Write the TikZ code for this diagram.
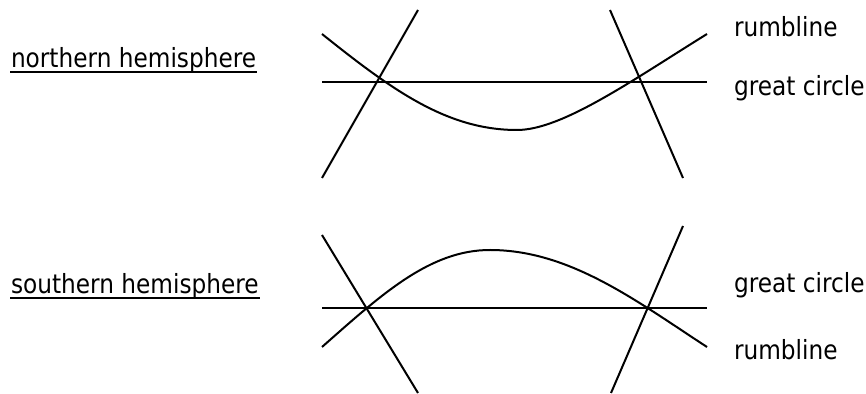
\documentclass[tikz,border=0pt]{standalone}
\usepackage{fontspec}
\setmainfont{DejaVu Sans}[FakeStretch=0.88]
\begin{document}
\begin{tikzpicture}[x=0.5pt, y=-0.5pt, line width=1pt,
    lbl/.style={anchor=base west, inner sep=0pt, font=\fontsize{13.2}{15}\selectfont}]
    \useasboundingbox (0,0) rectangle (866,394);
    % northern hemisphere
    \node[lbl] (nh) at (10,68) {northern hemisphere};
    \draw ([yshift=-2pt]nh.base west) -- ([yshift=-2pt]nh.base east);
    \draw (322,82) -- (707,82);
    \draw (322,34) .. controls (392,90) and (447,130) .. (517,130) .. controls (562,130) and (632,80.5) .. (707,34);
    \draw (322,178) -- (418,10);
    \draw (610,10) -- (683,178);
    \node[lbl] (nr) at (733,37) {rumbline};
    \node[lbl] (ng) at (733,96) {great circle};
    % southern hemisphere
    \node[lbl] (sh) at (10,294) {southern hemisphere};
    \draw ([yshift=-2pt]sh.base west) -- ([yshift=-2pt]sh.base east);
    \draw[line width=1.3pt] (322,308) -- (707,308);
    \draw (322,347) .. controls (382,294) and (430,250) .. (490,250) .. controls (570,250) and (637,301.5) .. (707,347);
    \draw (322,235) -- (418,393);
    \draw (683,226) -- (611,393);
    \node[lbl] (sg) at (733,293) {great circle};
    \node[lbl] (sr) at (733,360) {rumbline};
\end{tikzpicture}
\end{document}
